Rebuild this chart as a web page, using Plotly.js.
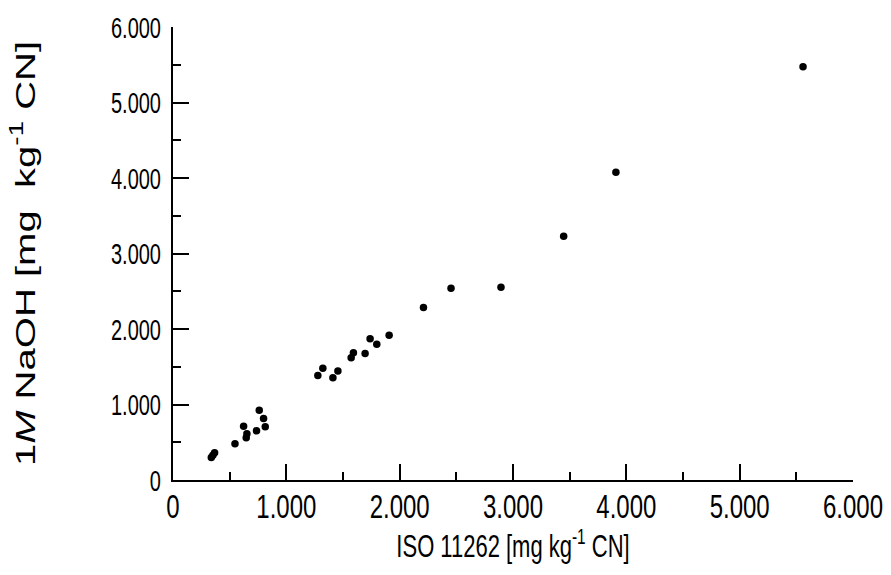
<!DOCTYPE html>
<html>
<head>
<meta charset="utf-8">
<script src="https://cdn.plot.ly/plotly-3.0.1.min.js"></script>
<style>
html, body { margin: 0; padding: 0; background: #fff; }
#chart { width: 891px; height: 575px; }
/* the reference lettering is drawn tall and narrow */
#chart g.xtick, #chart g.ytick, #chart g.g-xtitle, #chart g.g-ytitle {
  transform-box: fill-box;
  transform-origin: 50% 50%;
}
#chart g.xtick { transform: scaleY(1.4); }
#chart g.ytick { transform: scaleY(1.5); }
#chart g.g-xtitle { transform: scaleY(1.4); }
#chart g.g-ytitle { transform: scaleY(1.43); }
</style>
</head>
<body>
<div id="chart"></div>
<script>
// ISO 11262 values [mg kg-1 CN]
const isoValues = [338, 352, 367, 547, 623, 652, 646, 737, 761, 799, 814,
  1278, 1322, 1411, 1455, 1572, 1592, 1695, 1739, 1798, 1907,
  2210, 2453, 2894, 3447, 3908, 5559];
// 1M NaOH values [mg kg-1 CN]
const naohValues = [298, 329, 360, 479, 713, 611, 559, 651, 925, 815, 705,
  1384, 1481, 1354, 1445, 1618, 1685, 1675, 1870, 1799, 1918,
  2285, 2541, 2554, 3229, 4077, 5473];

const axisRange = [0, 6000];
const xTitle = 'ISO 11262 [mg kg<sup>-1</sup> CN]';
const yTitle = '1<i>M</i> NaOH [mg\u00a0\u00a0kg<sup>-1</sup> CN]';

const trace = {
  x: isoValues,
  y: naohValues,
  type: 'scatter',
  mode: 'markers',
  marker: { color: '#000', size: 7.5 },
  hoverinfo: 'skip'
};

const axisCommon = {
  range: axisRange,
  dtick: 1000,
  tick0: 0,
  tickformat: ',.0f',
  ticks: 'inside',
  ticklen: 16,
  tickwidth: 2,
  tickcolor: '#000',
  showline: true,
  linewidth: 2,
  linecolor: '#000',
  showgrid: false,
  zeroline: false,
  minor: { dtick: 500, tick0: 0, ticks: 'inside', ticklen: 8, tickwidth: 2, tickcolor: '#000', showgrid: false },
  fixedrange: true,
  automargin: false
};

const layout = {
  width: 891,
  height: 575,
  separators: ',.',
  margin: { l: 173, r: 38, t: 27, b: 95 },
  paper_bgcolor: '#fff',
  plot_bgcolor: '#fff',
  showlegend: false,
  font: { family: 'Liberation Sans, Arial, sans-serif', color: '#000' },
  xaxis: Object.assign({}, axisCommon, {
    tickfont: { family: 'Liberation Sans, Arial, sans-serif', size: 24, color: '#000' },
    ticklabelstandoff: 4,
    title: { text: xTitle, font: { size: 22, color: '#000' }, standoff: 19 }
  }),
  yaxis: Object.assign({}, axisCommon, {
    tickfont: { family: 'Liberation Sans, Arial, sans-serif', size: 20, color: '#000' },
    ticklabelstandoff: 6,
    title: { text: yTitle, font: { size: 28, color: '#000' }, standoff: 67 }
  })
};

Plotly.newPlot('chart', [trace], layout, { staticPlot: true, displayModeBar: false });
</script>
</body>
</html>
